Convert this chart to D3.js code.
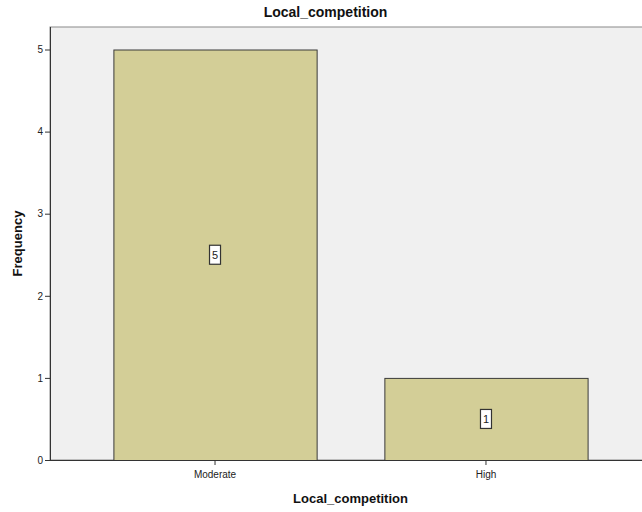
<!DOCTYPE html>
<html>
<head>
<meta charset="utf-8">
<script src="https://cdn.jsdelivr.net/npm/d3@7"></script>
<style>
  html, body { margin: 0; padding: 0; background: #ffffff; }
  svg { display: block; font-family: Arial, "Liberation Sans", sans-serif; }
</style>
</head>
<body>
<svg id="chart" width="642" height="512"></svg>
<script>
// Frequency counts per category
const categories = ["Moderate", "High"];
const frequencies = [5, 1];
const yTicks = [0, 1, 2, 3, 4, 5];

const svg = d3.select("#chart");
const plot = { left: 50, right: 651, top: 27, bottom: 460 };

const x = d3.scaleBand()
  .domain(categories)
  .range([plot.left, plot.right])
  .paddingInner(0.25)
  .paddingOuter(0.234);

const y = d3.scaleLinear()
  .domain([0, 5])
  .range([plot.bottom, plot.bottom - 5 * 82.1]);

// Plot background
svg.append("rect")
  .attr("x", plot.left).attr("y", plot.top)
  .attr("width", plot.right - plot.left).attr("height", plot.bottom - plot.top)
  .attr("fill", "#f0f0f0")
  .attr("stroke", "#8a8a8a").attr("stroke-width", 1);

// Bars
svg.append("g").selectAll("rect")
  .data(categories)
  .join("rect")
  .attr("x", d => x(d) + 0.5)
  .attr("y", (d, i) => y(frequencies[i]) + 0.5)
  .attr("width", x.bandwidth())
  .attr("height", (d, i) => y(0) - y(frequencies[i]))
  .attr("fill", "#d3ce97")
  .attr("stroke", "#3a3a3a")
  .attr("stroke-width", 1);

// Value labels in boxes at the middle of each bar
const labels = svg.append("g").selectAll("g")
  .data(categories)
  .join("g")
  .attr("transform", (d, i) => `translate(${x(d) + x.bandwidth() / 2},${y(frequencies[i] / 2)})`);
labels.append("rect")
  .attr("x", -5.5).attr("y", -9.5)
  .attr("width", 11).attr("height", 19)
  .attr("fill", "#ffffff")
  .attr("stroke", "#333333").attr("stroke-width", 1.2);
labels.append("text")
  .attr("text-anchor", "middle")
  .attr("dy", "0.36em")
  .attr("font-size", 11)
  .attr("fill", "#222")
  .text((d, i) => frequencies[i]);

// Y axis
const yAxis = svg.append("g")
  .attr("transform", `translate(${plot.left},0)`)
  .call(d3.axisLeft(y).tickValues(yTicks).tickSize(5).tickPadding(2).tickFormat(d3.format("d")));
yAxis.select(".domain").attr("stroke", "#333").attr("d", `M0.5,${plot.top}V${plot.bottom}`);
yAxis.selectAll(".tick line").attr("stroke", "#333");
yAxis.selectAll("text").attr("font-size", 10).attr("fill", "#222")
  .attr("font-family", "Arial, 'Liberation Sans', sans-serif");

// X axis
const xAxis = svg.append("g")
  .attr("transform", `translate(0,${plot.bottom})`)
  .call(d3.axisBottom(x).tickSize(5).tickPadding(6));
xAxis.select(".domain").attr("stroke", "#333").attr("d", `M${plot.left},0.5H${plot.right}`);
xAxis.selectAll(".tick line").attr("stroke", "#333");
xAxis.selectAll("text").attr("font-size", 10).attr("fill", "#222")
  .attr("font-family", "Arial, 'Liberation Sans', sans-serif");

// Titles
svg.append("text")
  .attr("x", (0 + plot.right) / 2).attr("y", 17)
  .attr("text-anchor", "middle")
  .attr("font-size", 14).attr("font-weight", "bold").attr("fill", "#111")
  .text("Local_competition");

svg.append("text")
  .attr("x", (plot.left + plot.right) / 2).attr("y", 503)
  .attr("text-anchor", "middle")
  .attr("font-size", 13).attr("font-weight", "bold").attr("fill", "#111")
  .text("Local_competition");

svg.append("text")
  .attr("transform", `translate(22,${(plot.top + plot.bottom) / 2}) rotate(-90)`)
  .attr("text-anchor", "middle")
  .attr("font-size", 13).attr("font-weight", "bold").attr("fill", "#111")
  .text("Frequency");
</script>
</body>
</html>
